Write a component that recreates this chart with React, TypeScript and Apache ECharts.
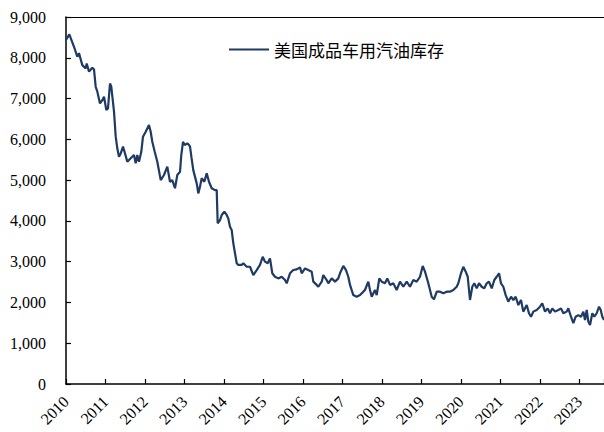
import React, { useEffect, useRef } from "react";
import * as echarts from "echarts";

const seriesName = "美国成品车用汽油库存";
const yTicks = [0, 1000, 2000, 3000, 4000, 5000, 6000, 7000, 8000, 9000];
const yearLabels = [2010, 2011, 2012, 2013, 2014, 2015, 2016, 2017, 2018, 2019, 2020, 2021, 2022, 2023];

// decimal year offsets from 2010
const timeOffsets = [
  0, 0.084, 0.203, 0.286, 0.329, 0.413, 0.499, 0.524, 0.583, 0.666, 0.709, 0.752, 0.793, 0.861, 0.919, 0.963,
  1.021, 1.064, 1.114, 1.147, 1.216, 1.259, 1.299, 1.342, 1.386, 1.444, 1.494, 1.553, 1.639, 1.722, 1.765, 1.806, 1.849, 1.907, 1.95,
  2.019, 2.102, 2.145, 2.186, 2.247, 2.313, 2.399, 2.482, 2.566, 2.634, 2.692, 2.761, 2.819, 2.888, 2.92, 2.964,
  3.007, 3.072, 3.116, 3.141, 3.179, 3.224, 3.311, 3.351, 3.394, 3.437, 3.503, 3.564, 3.622, 3.69, 3.774, 3.817, 3.842, 3.901, 3.944,
  4.01, 4.07, 4.111, 4.154, 4.197, 4.238, 4.281, 4.324, 4.364, 4.45, 4.491, 4.577, 4.661, 4.744, 4.83, 4.914, 4.982,
  5.041, 5.109, 5.167, 5.225, 5.294, 5.377, 5.464, 5.547, 5.59, 5.674, 5.757, 5.843, 5.927, 5.97,
  6.054, 6.137, 6.223, 6.264, 6.35, 6.391, 6.477, 6.517, 6.603, 6.644, 6.73, 6.814, 6.897, 6.94,
  7.024, 7.092, 7.15, 7.194, 7.277, 7.363, 7.447, 7.53, 7.573, 7.657, 7.7, 7.743, 7.827, 7.87, 7.936, 7.997,
  8.08, 8.138, 8.207, 8.29, 8.376, 8.46, 8.544, 8.63, 8.713, 8.797, 8.883, 8.967,
  9.035, 9.093, 9.177, 9.263, 9.321, 9.39, 9.473, 9.557, 9.643, 9.726, 9.81, 9.896, 9.937,
  10.005, 10.063, 10.124, 10.175, 10.233, 10.291, 10.342, 10.403, 10.461, 10.529, 10.595, 10.656, 10.714, 10.783, 10.849, 10.909, 10.968,
  11.018, 11.077, 11.137, 11.203, 11.272, 11.33, 11.391, 11.457, 11.525, 11.583, 11.669, 11.727, 11.778, 11.837, 11.922,
  12.006, 12.064, 12.133, 12.201, 12.259, 12.318, 12.386, 12.47, 12.538, 12.597, 12.682, 12.723, 12.791, 12.85, 12.91, 12.976,
  13.045, 13.103, 13.146, 13.189, 13.23, 13.273, 13.331, 13.382, 13.442, 13.501, 13.544, 13.584, 13.627,
];

const stockValues = [
  8435, 8575, 8270, 8025, 8115, 7820, 7740, 7860, 7660, 7755, 7715, 7290, 7170, 6880, 6960, 7045,
  6720, 6760, 7370, 7290, 6680, 6065, 5780, 5575, 5655, 5820, 5655, 5450, 5535, 5615, 5410, 5615, 5450, 5695, 6065,
  6185, 6350, 6185, 5940, 5695, 5450, 5000, 5125, 5330, 4960, 5000, 4800, 5125, 5205, 5615, 5940,
  5860, 5900, 5860, 5820, 5550, 5245, 4920, 4675, 4840, 5045, 4960, 5165, 4960, 4800, 4755, 4755, 3940, 4020, 4145,
  4225, 4145, 4060, 3855, 3775, 3450, 3205, 2960, 2920, 2920, 2960, 2875, 2875, 2670, 2795, 2920, 3120,
  3000, 2960, 3080, 2715, 2630, 2590, 2630, 2550, 2470, 2715, 2795, 2810, 2860, 2715,
  2835, 2795, 2755, 2510, 2430, 2385, 2510, 2670, 2550, 2470, 2590, 2510, 2590, 2715,
  2895, 2795, 2630, 2430, 2180, 2140, 2180, 2265, 2305, 2510, 2305, 2140, 2305, 2180, 2590, 2510,
  2470, 2590, 2430, 2470, 2305, 2510, 2385, 2510, 2385, 2550, 2510, 2630,
  2895, 2755, 2470, 2140, 2075, 2265, 2265, 2225, 2265, 2265, 2305, 2385, 2470,
  2715, 2875, 2755, 2630, 2060, 2385, 2470, 2345, 2470, 2385, 2345, 2470, 2510, 2345, 2550, 2630, 2715,
  2470, 2385, 2180, 2020, 2140, 2060, 2140, 1935, 2060, 1775, 1935, 1735, 1650, 1775, 1815,
  1895, 1980, 1775, 1855, 1735, 1855, 1775, 1815, 1855, 1735, 1775, 1855, 1650, 1490, 1650, 1690,
  1650, 1775, 1570, 1815, 1530, 1445, 1735, 1650, 1735, 1895, 1815, 1650, 1570,
];

const baseYear = yearLabels[0];
const axisMaxYear = baseYear + timeOffsets[timeOffsets.length - 1];

export default function App() {
  const ref = useRef<HTMLDivElement>(null);
  useEffect(() => {
    if (!ref.current) return;
    const chart = echarts.init(ref.current, undefined, { renderer: "svg" });
    const data = timeOffsets.map((t, i) => [baseYear + t, stockValues[i]]);
    const font = "'Liberation Serif', 'Times New Roman', serif";
    chart.setOption({
      animation: false,
      backgroundColor: "#ffffff",
      grid: {
        left: 66,
        right: 0,
        top: 17,
        bottom: 48,
        containLabel: false,
        outerBoundsMode: "none",
      },
      legend: {
        left: 224,
        top: 36,
        icon: "rect",
        itemWidth: 40,
        itemHeight: 2,
        itemGap: 4,
        textStyle: {
          fontFamily: "'Noto Sans CJK SC', sans-serif",
          fontSize: 17,
          color: "#000",
        },
        data: [seriesName],
      },
      xAxis: [
        {
          type: "value",
          min: baseYear,
          max: axisMaxYear,
          interval: 1,
          splitLine: { show: false },
          axisLine: { lineStyle: { color: "#000", width: 1.5 } },
          axisTick: {
            show: true,
            inside: true,
            length: 5,
            lineStyle: { color: "#000", width: 1.2 },
          },
          axisLabel: {
            rotate: 45,
            margin: 15,
            fontFamily: font,
            fontSize: 16,
            color: "#000",
            formatter: (v: number) =>
              Math.abs(v - Math.round(v)) < 1e-6 && yearLabels.includes(Math.round(v)) ? String(Math.round(v)) : "",
          },
        },
        {
          type: "value",
          position: "top",
          min: baseYear,
          max: axisMaxYear,
          splitLine: { show: false },
          axisLine: { show: true, lineStyle: { color: "#000", width: 1.2 } },
          axisTick: { show: false },
          axisLabel: { show: false },
        },
      ],
      yAxis: {
        type: "value",
        min: yTicks[0],
        max: yTicks[yTicks.length - 1],
        interval: 1000,
        splitLine: { show: false },
        axisLine: { show: true, lineStyle: { color: "#000", width: 1.5 } },
        axisTick: { show: true, inside: true, length: 5, lineStyle: { color: "#000", width: 1.2 } },
        axisLabel: {
          margin: 20,
          fontFamily: font,
          fontSize: 16,
          color: "#000",
          formatter: (v: number) => v.toLocaleString("en-US"),
        },
      },
      series: [
        {
          name: seriesName,
          type: "line",
          xAxisIndex: 0,
          data,
          symbol: "none",
          lineStyle: { color: "#1F3A63", width: 2.2 },
          itemStyle: { color: "#1F3A63" },
        },
      ],
    });
    return () => chart.dispose();
  }, []);
  return (
    <div
      ref={ref}
      style={{ position: "absolute", left: 0, top: 0, width: 604, height: 432, background: "#fff" }}
    />
  );
}
